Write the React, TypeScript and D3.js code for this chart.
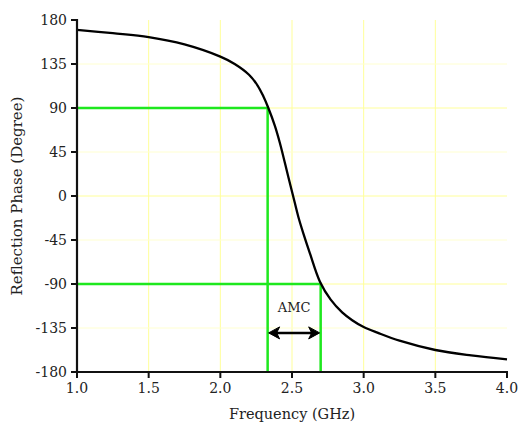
import React from "react";
import * as d3 from "d3";

const freq = [1.0, 1.25, 1.5, 1.75, 2.0, 2.1, 2.2, 2.26, 2.3, 2.335, 2.38, 2.416, 2.474, 2.509, 2.544, 2.579, 2.625, 2.695, 2.77, 2.85, 2.92, 3.0, 3.1, 3.25, 3.5, 3.75, 4.0];
const phase = [170, 166.5, 162.5, 155, 142.5, 135, 124, 113, 102, 90, 72, 54, 19.7, -0.7, -21.2, -38.2, -58.6, -87.6, -106, -119, -127, -134, -140, -148, -157.5, -163, -167];
const xTicks = [1.0, 1.5, 2.0, 2.5, 3.0, 3.5, 4.0];
const yTicks = [180, 135, 90, 45, 0, -45, -90, -135, -180];
const bandLow = 2.33;
const bandHigh = 2.7;
const bandPhaseHigh = 90;
const bandPhaseLow = -90;
const arrowPhase = -140;

export default function App() {
  const W = 518, H = 426;
  const left = 77, right = 507, top = 20, bottom = 372;
  const x = d3.scaleLinear().domain([1, 4]).range([left, right]);
  const y = d3.scaleLinear().domain([-180, 180]).range([bottom, top]);
  const line = d3.line<number>().x((d, i) => x(freq[i])).y((d) => y(d)).curve(d3.curveCatmullRom.alpha(0.5));
  const font = "'DejaVu Serif', serif";
  const green = "#1ee81e";
  const ay = y(arrowPhase);
  const ax1 = x(bandLow), ax2 = x(bandHigh);
  return (
    <svg width={W} height={H} style={{ position: "absolute", left: 0, top: 0, background: "#fff" }}>
      {/* grid */}
      {xTicks.slice(1, -1).map((t) => (
        <line key={"gx" + t} x1={x(t)} x2={x(t)} y1={top} y2={bottom} stroke="#ffff9a" strokeWidth={1} />
      ))}
      {yTicks.slice(1, -1).map((t) => (
        <line key={"gy" + t} x1={left} x2={right} y1={y(t)} y2={y(t)} stroke={t % 90 === 0 ? "#ffff9a" : "#ffffd0"} strokeWidth={1} />
      ))}
      {/* green guides */}
      <path d={`M${x(1)},${y(bandPhaseHigh)}H${x(bandLow)}V${y(-180)}`} fill="none" stroke={green} strokeWidth={2.5} />
      <path d={`M${x(1)},${y(bandPhaseLow)}H${x(bandHigh)}V${y(-180)}`} fill="none" stroke={green} strokeWidth={2.5} />
      {/* curve */}
      <path d={line(phase) || ""} fill="none" stroke="#000" strokeWidth={2.3} />
      {/* arrow */}
      <line x1={ax1 + 8} x2={ax2 - 8} y1={ay} y2={ay} stroke="#000" strokeWidth={2.5} />
      <path d={`M${ax1 + 1},${ay} L${ax1 + 12},${ay - 6} L${ax1 + 9},${ay} L${ax1 + 12},${ay + 6} Z`} fill="#000" stroke="#000" strokeWidth={1} strokeLinejoin="round" />
      <path d={`M${ax2 - 1},${ay} L${ax2 - 12},${ay - 6} L${ax2 - 9},${ay} L${ax2 - 12},${ay + 6} Z`} fill="#000" stroke="#000" strokeWidth={1} strokeLinejoin="round" />
      <text x={(ax1 + ax2) / 2} y={ay - 21} textAnchor="middle" fontFamily={font} fontSize={13} fill="#222">AMC</text>
      {/* axes */}
      <line x1={left} x2={left} y1={top - 1} y2={bottom + 1} stroke="#111" strokeWidth={2.2} />
      <line x1={left - 1} x2={right + 1} y1={bottom} y2={bottom} stroke="#111" strokeWidth={2.2} />
      {yTicks.map((t) => (
        <g key={"yt" + t}>
          <line x1={left - 6} x2={left} y1={y(t)} y2={y(t)} stroke="#111" strokeWidth={2} />
          <text x={left - 10} y={y(t) + 5} textAnchor="end" fontFamily={font} fontSize={14} fill="#222">{t}</text>
        </g>
      ))}
      {xTicks.map((t) => (
        <g key={"xt" + t}>
          <line x1={x(t)} x2={x(t)} y1={bottom} y2={bottom + 6} stroke="#111" strokeWidth={2} />
          <text x={x(t)} y={bottom + 21} textAnchor="middle" fontFamily={font} fontSize={14} fill="#222">{t.toFixed(1)}</text>
        </g>
      ))}
      <text x={292} y={419} textAnchor="middle" fontFamily={font} fontSize={14.5} fill="#222">Frequency (GHz)</text>
      <text transform={`translate(22,${(top + bottom) / 2}) rotate(-90)`} textAnchor="middle" fontFamily={font} fontSize={15} fill="#222">Reflection Phase (Degree)</text>
    </svg>
  );
}
